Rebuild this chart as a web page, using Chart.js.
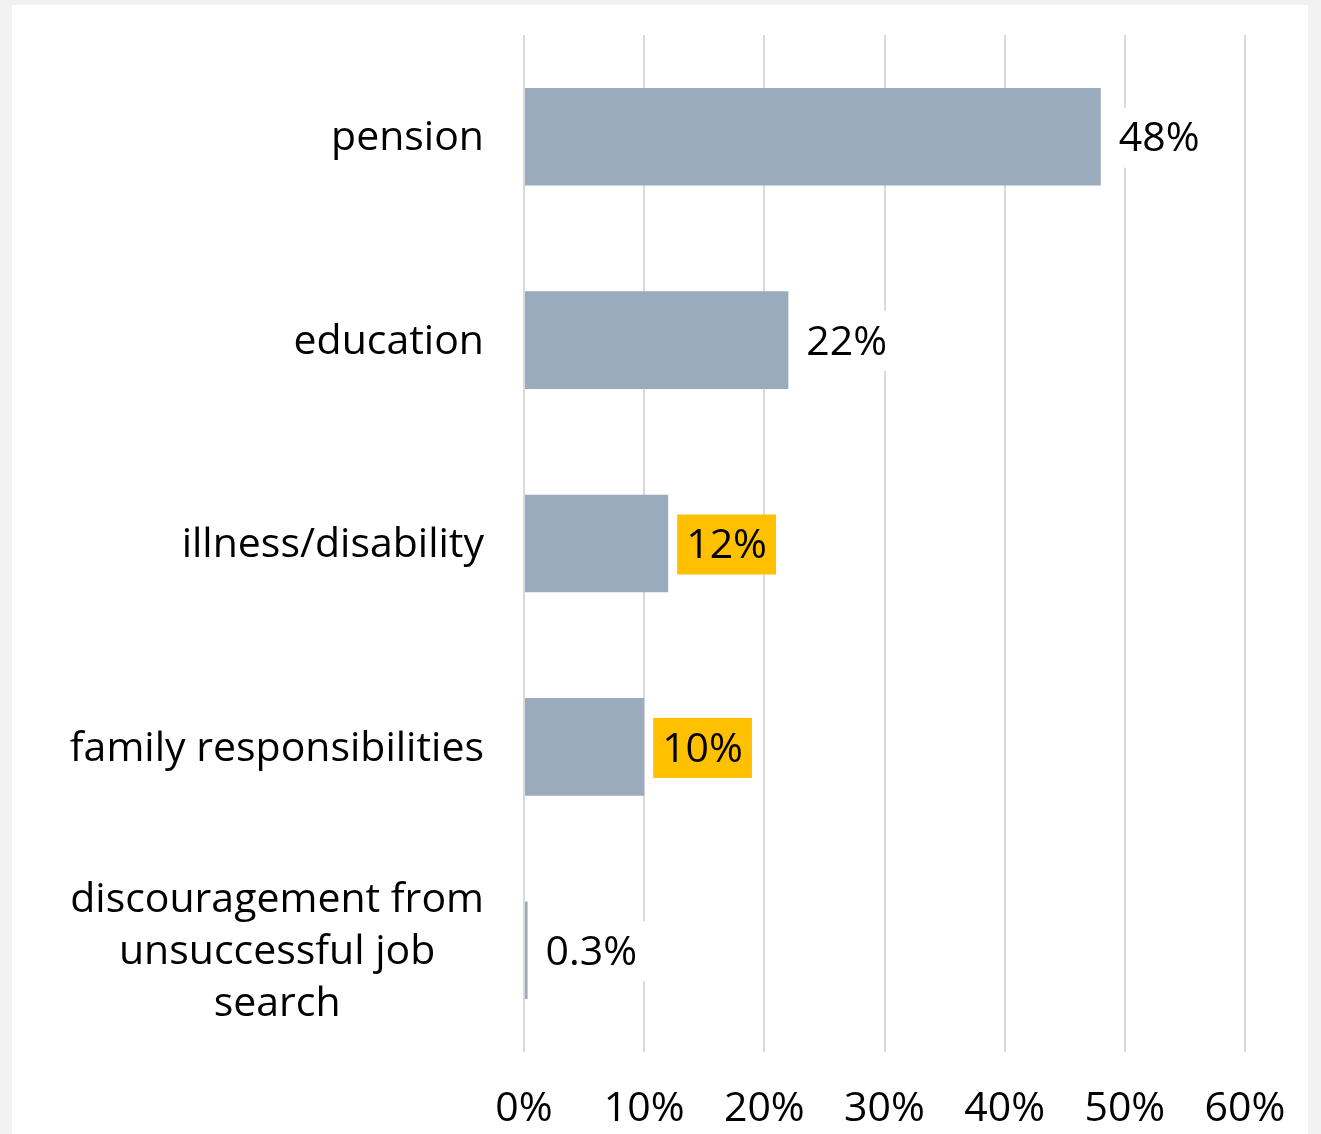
<!DOCTYPE html>
<html>
<head>
<meta charset="utf-8">
<script src="https://cdn.jsdelivr.net/npm/chart.js@4"></script>
<style>
  body { margin: 0; background: #f2f2f2; }
  canvas { display: block; }
</style>
</head>
<body>
<canvas id="myChart" width="1321" height="1134"></canvas>
<script>
const categories = [
    'pension',
    'education',
    'illness/disability',
    'family responsibilities',
    ['discouragement from', 'unsuccessful job', 'search']
];
const shares = [48, 22, 12, 10, 0.3];
const shareLabels = ['48%', '22%', '12%', '10%', '0.3%'];
const highlighted = ['illness/disability', 'family responsibilities'];
const tickValues = [0, 10, 20, 30, 40, 50, 60];

const FONT = 'Open Sans';
const FONT_SIZE = 41;

// grey page with a white panel behind the chart
const panel = {
    id: 'panel',
    beforeDraw(chart) {
        const c = chart.ctx;
        c.save();
        c.fillStyle = '#f2f2f2';
        c.fillRect(0, 0, chart.width, chart.height);
        c.fillStyle = '#ffffff';
        c.fillRect(12, 5, 1296, chart.height - 5);
        c.restore();
    }
};

// category names: block right-aligned to the axis, lines centred within it
const categoryNames = {
    id: 'categoryNames',
    afterDraw(chart) {
        const c = chart.ctx;
        const y = chart.scales.y;
        const right = chart.chartArea.left - 40;
        const lineH = 52;
        c.save();
        c.font = FONT_SIZE + 'px "' + FONT + '"';
        c.fillStyle = '#000';
        c.textAlign = 'center';
        c.textBaseline = 'middle';
        categories.forEach((cat, i) => {
            const lines = Array.isArray(cat) ? cat : [cat];
            const w = Math.max(...lines.map(l => c.measureText(l).width));
            const cx = right - w / 2;
            const cy = y.getPixelForValue(i) + 2;
            lines.forEach((l, k) => {
                c.fillText(l, cx, cy + (k - (lines.length - 1) / 2) * lineH);
            });
        });
        c.restore();
    }
};

// value labels at the bar ends, boxed so they sit above the gridlines
const valueLabels = {
    id: 'valueLabels',
    afterDatasetsDraw(chart) {
        const c = chart.ctx;
        const bars = chart.getDatasetMeta(0).data;
        c.save();
        c.font = FONT_SIZE + 'px "' + FONT + '"';
        c.textBaseline = 'middle';
        c.textAlign = 'left';
        bars.forEach((bar, i) => {
            const text = shareLabels[i];
            const w = c.measureText(text).width;
            const name = Array.isArray(categories[i]) ? categories[i].join(' ') : categories[i];
            const x0 = bar.x + 9;
            c.fillStyle = highlighted.includes(name) ? '#ffc000' : '#ffffff';
            c.fillRect(x0, bar.y - 29, w + 18, 60);
            c.fillStyle = '#000';
            c.fillText(text, x0 + 9, bar.y + 3);
        });
        c.restore();
    }
};

const ctx = document.getElementById('myChart').getContext('2d');
const myChart = new Chart(ctx, {
    type: 'bar',
    data: {
        labels: categories,
        datasets: [{
            data: shares,
            backgroundColor: '#99abbc',
            categoryPercentage: 1,
            barPercentage: 0.48
        }]
    },
    options: {
        indexAxis: 'y',
        responsive: false,
        animation: false,
        layout: { padding: { top: 35, right: 76, bottom: 0, left: 0 } },
        plugins: {
            legend: { display: false },
            tooltip: { enabled: false }
        },
        scales: {
            x: {
                min: 0,
                max: 60,
                afterBuildTicks: scale => {
                    scale.ticks = tickValues.map(v => ({ value: v }));
                },
                afterFit: scale => { scale.height = 82; },
                grid: { color: '#d9d9d9', lineWidth: 2, drawTicks: false },
                border: { display: false },
                ticks: {
                    padding: 33,
                    color: '#000',
                    font: { family: FONT, size: FONT_SIZE },
                    maxRotation: 0,
                    callback: v => v + '%'
                }
            },
            y: {
                afterFit: scale => { scale.width = 524; },
                grid: { display: false },
                border: { display: false },
                ticks: { display: false }
            }
        }
    },
    plugins: [panel, categoryNames, valueLabels]
});
</script>
</body>
</html>
